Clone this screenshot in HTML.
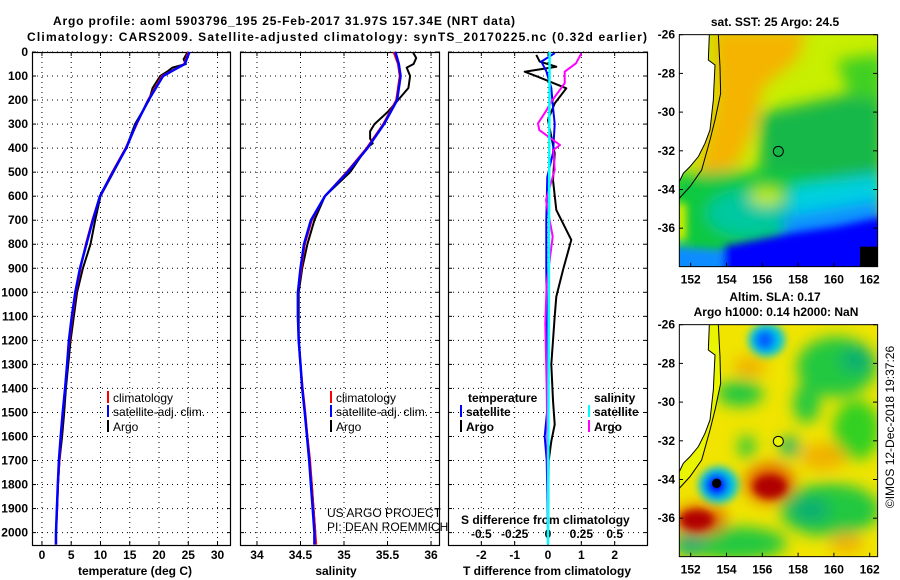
<!DOCTYPE html>
<html><head><meta charset="utf-8"><style>
html,body{margin:0;padding:0;background:#fff;}
svg{display:block;font-family:"Liberation Sans",Arial,sans-serif;}
.b{font-weight:bold;font-size:12px;}
</style></head><body>
<svg id="fig" width="900" height="580" viewBox="0 0 900 580">
<defs>
<filter id="bl" x="-50%" y="-50%" width="200%" height="200%"><feGaussianBlur stdDeviation="22"/></filter>
<filter id="bl2" x="-50%" y="-50%" width="200%" height="200%"><feGaussianBlur stdDeviation="12"/></filter>
<clipPath id="mc1"><rect x="88" y="104" width="595" height="696"/></clipPath>
</defs>
<text class="b" x="284" y="25" text-anchor="middle" textLength="462" font-size="13">Argo profile: aoml 5903796_195 25-Feb-2017 31.97S 157.34E (NRT data)</text>
<text class="b" x="337" y="41" text-anchor="middle" textLength="620" font-size="13">Climatology: CARS2009. Satellite-adjusted climatology: synTS_20170225.nc (0.32d earlier)</text>
<g id="panels"></g>
<!-- SST map -->
<g transform="translate(650,0) scale(0.3333)">
 <g clip-path="url(#mc1)">
  <rect x="88" y="104" width="595" height="696" fill="#c8ee00"/>
  <g filter="url(#bl)">
   <polygon points="190,90 470,90 440,180 340,260 310,390 260,500 140,530 200,300" fill="#f5b400"/>
   <polygon points="330,340 700,260 700,520 520,570 330,520" fill="#18b848"/>
   <polygon points="560,180 700,160 700,300 600,290" fill="#40d020"/>
   <polygon points="60,520 340,510 700,540 700,820 60,820" fill="#10c840"/>
   <ellipse cx="300" cy="640" rx="130" ry="70" fill="#00c8a0"/>
   <ellipse cx="350" cy="590" rx="50" ry="25" fill="#c8ee00"/>
   <polygon points="420,560 700,520 700,640 420,650" fill="#00d0e0"/>
   <polygon points="400,650 700,600 700,740 400,730" fill="#0a8cff"/>
  </g>
  <g filter="url(#bl2)">
   <polygon points="220,740 420,700 560,680 700,650 700,820 220,820" fill="#0000ff"/>
   <polygon points="60,740 220,750 220,820 60,820" fill="#0a8cff"/>
   <polygon points="70,610 110,610 110,720 70,720" fill="#c8ee00"/>
  </g>
  <rect x="630" y="740" width="60" height="70" fill="#000"/>
  <polygon points="80,90 178,90 175,180 195,195 190,300 180,390 165,430 145,470 120,500 100,520 88,545 80,545" fill="#fff"/>
  <polyline points="178,104 175,180 195,195 190,300 180,390 165,430 145,470 120,500 100,520 88,545" fill="none" stroke="#000" stroke-width="3"/>
  <polyline points="205,104 210,200 212,280 195,360 180,420 155,510 120,560 88,595" fill="none" stroke="#000" stroke-width="3"/>
  <circle cx="385" cy="454" r="15" fill="none" stroke="#000" stroke-width="3"/>
 </g>
 <rect x="88" y="104" width="595" height="696" fill="none" stroke="#000" stroke-width="3"/>
</g>
<!-- SLA map -->
<g transform="translate(650,290) scale(0.3333)">
 <g clip-path="url(#mc1)">
  <rect x="88" y="104" width="595" height="696" fill="#f0e400"/>
  <g filter="url(#bl)">
   <ellipse cx="560" cy="230" rx="120" ry="90" fill="#20c840"/>
   <ellipse cx="620" cy="210" rx="50" ry="40" fill="#10b070"/>
   <ellipse cx="270" cy="310" rx="70" ry="40" fill="#20c840"/>
   <ellipse cx="470" cy="340" rx="40" ry="60" fill="#20c840"/>
   <ellipse cx="620" cy="420" rx="70" ry="90" fill="#30d020"/>
   <ellipse cx="540" cy="660" rx="150" ry="80" fill="#20c840"/>
   <ellipse cx="480" cy="660" rx="60" ry="40" fill="#10b070"/>
   <ellipse cx="260" cy="760" rx="150" ry="50" fill="#20c840"/>
   <ellipse cx="120" cy="760" rx="50" ry="40" fill="#10b070"/>
   <ellipse cx="290" cy="470" rx="25" ry="35" fill="#20c840"/>
   <ellipse cx="420" cy="470" rx="30" ry="30" fill="#10b070"/>
   <ellipse cx="300" cy="230" rx="50" ry="30" fill="#f0b000"/>
   <ellipse cx="520" cy="500" rx="70" ry="40" fill="#f0b000"/>
   <ellipse cx="590" cy="760" rx="50" ry="30" fill="#f0b000"/>
   <ellipse cx="360" cy="580" rx="75" ry="60" fill="#e06000"/>
   <ellipse cx="150" cy="690" rx="80" ry="45" fill="#e06000"/>
  </g>
  <g filter="url(#bl2)">
   <ellipse cx="350" cy="150" rx="55" ry="50" fill="#00c8e0"/>
   <ellipse cx="345" cy="150" rx="30" ry="30" fill="#0060ff"/>
   <ellipse cx="205" cy="585" rx="60" ry="55" fill="#00c8e0"/>
   <ellipse cx="200" cy="585" rx="35" ry="35" fill="#0000ff"/>
   <ellipse cx="360" cy="590" rx="50" ry="35" fill="#b00000"/>
   <ellipse cx="140" cy="690" rx="50" ry="30" fill="#b00000"/>
  </g>
  <circle cx="200" cy="580" r="14" fill="#000"/>
  <polygon points="80,90 178,90 175,180 195,195 190,300 180,390 165,430 145,470 120,500 100,520 88,545 80,545" fill="#fff"/>
  <polygon points="178,104 205,104 210,200 212,280 195,360 180,420 155,510 120,560 88,595 88,545 100,520 120,500 145,470 165,430 180,390 190,300 195,195 175,180" fill="#e8f400"/>
  <polyline points="178,104 175,180 195,195 190,300 180,390 165,430 145,470 120,500 100,520 88,545" fill="none" stroke="#000" stroke-width="3"/>
  <polyline points="205,104 210,200 212,280 195,360 180,420 155,510 120,560 88,595" fill="none" stroke="#000" stroke-width="3"/>
  <circle cx="385" cy="454" r="15" fill="#e8f400" stroke="#000" stroke-width="3"/>
 </g>
 <rect x="88" y="104" width="595" height="696" fill="none" stroke="#000" stroke-width="3"/>
</g>
<text class="b" x="775" y="26" text-anchor="middle">sat. SST: 25 Argo: 24.5</text>
<text class="b" x="775" y="301" text-anchor="middle">Altim. SLA: 0.17</text>
<text class="b" x="776" y="316" text-anchor="middle">Argo h1000: 0.14 h2000: NaN</text>
<text x="894" y="427" font-size="12" text-anchor="middle" transform="rotate(-90 894 427)">©IMOS 12-Dec-2018 19:37:26</text>
<g id="maptk"></g>
</svg>
<script>
// ---- data ----
const depthTicks = [0,100,200,300,400,500,600,700,800,900,1000,1100,1200,1300,1400,1500,1600,1700,1800,1900,2000];
const tempTicks = [0,5,10,15,20,25,30];
const salTicks = [34,34.5,35,35.5,36];
const salTickLabels = ["34","34.5","35","35.5","36"];
const tdiffTicks = [-2,-1,0,1,2];
const sdiffTicks = [-0.5,-0.25,0,0.25,0.5];
const sdiffTickLabels = ["-0.5","-0.25","0","0.25","0.5"];

const depthT = [0,50,70,100,200,300,400,500,600,700,800,900,1000,1100,1200,1300,1400,1500,1600,1700,1800,1900,2000,2050];
const climT = [25,24.3,22.8,20.5,18.1,16.2,14.3,12,9.9,8.6,7.5,6.6,5.8,5.2,4.7,4.3,3.95,3.6,3.25,3.0,2.75,2.6,2.4,2.35];
const satT  = [25.2,24.4,22.9,20.7,18.2,16.1,14.4,12.1,9.9,8.7,7.6,6.5,5.7,5.1,4.6,4.3,3.95,3.55,3.2,2.9,2.7,2.55,2.4,2.4];
const argoDepthT = [0,30,50,65,80,100,150,200,300,400,500,600,700,800,900,1000,1200,1400,1500,1600,1700,1800,2000];
const argoT = [24.9,24.2,24.6,22.3,21.5,20.2,18.9,18.3,15.9,14.4,12.2,10.0,9.1,8.3,7.0,6.0,4.9,4.1,3.8,3.45,3.0,2.75,2.4];

const depthS = [0,50,100,200,300,400,500,600,700,800,900,1000,1100,1200,1300,1400,1500,1600,1700,1800,1900,2000,2050];
const climS = [35.57,35.62,35.64,35.6,35.45,35.26,35.03,34.78,34.63,34.55,34.51,34.47,34.47,34.48,34.5,34.525,34.555,34.58,34.61,34.63,34.65,34.67,34.68];
const satS  = [35.59,35.63,35.65,35.61,35.46,35.27,35.04,34.78,34.62,34.54,34.5,34.47,34.47,34.48,34.5,34.52,34.55,34.575,34.6,34.62,34.64,34.66,34.66];
const argoDepthS = [0,25,50,65,100,150,200,250,300,330,360,380,400,500,600,700,800,900,1000,1200,1400,1600,1800,2000];
const argoS = [35.79,35.83,35.8,35.72,35.76,35.74,35.62,35.5,35.35,35.3,35.3,35.33,35.26,35.07,34.78,34.66,34.58,34.52,34.48,34.48,34.52,34.58,34.63,34.67];

const tdDepthArgo = [12,40,61,82,103,151,214,283,422,533,657,782,907,1018,1101,1300,1450,1550,1620,1700,2000];
const tdArgo = [-0.35,-0.25,0.25,-0.7,-0.3,0.55,0.2,0,0.2,0.15,0.25,0.7,0.45,0.25,0.2,0.1,0.15,0.2,0.1,0.02,0.0];
const tdDepthSat = [5,40,80,150,230,300,420,520,700,900,1200,1500,1600,1700,2000];
const tdSat = [0.2,-0.2,-0.05,0.1,0.15,0.2,0.15,-0.02,-0.05,-0.05,-0.03,-0.03,-0.1,-0.04,0.0];
const sdDepthArgo = [6,47,82,130,207,241,297,325,387,408,491,616,768,963,1129,1400,1600,2000];
const sdArgo = [0.25,0.21,0.125,0.125,0.025,-0.01,-0.075,-0.065,0.09,0.04,0.05,-0.015,0.035,-0.01,-0.02,-0.01,-0.005,0.0];
const sdDepthSat = [0,2050];
const sdSat = [0.012,0.0];

const mapLat = [-26,-28,-30,-32,-34,-36];
const mapLon = [152,154,156,158,160,162];

// ---- layout ----
const NS="http://www.w3.org/2000/svg";
const Y0=52, Y1=545;
const yD = d => Y0 + d*0.2403;
const P = [
 {x0:32,x1:231,vmin:-1.7,vmax:32.3,name:"temperature-panel"},
 {x0:240,x1:440,vmin:33.805,vmax:36.103,name:"salinity-panel"},
 {x0:448,x1:648,vmin:-3.0,vmax:3.0,name:"difference-panel"}];
const xT = v => P[0].x0 + (v-P[0].vmin)/(P[0].vmax-P[0].vmin)*(P[0].x1-P[0].x0);
const xS = v => P[1].x0 + (v-P[1].vmin)/(P[1].vmax-P[1].vmin)*(P[1].x1-P[1].x0);
const xTD = v => P[2].x0 + (v-P[2].vmin)/(P[2].vmax-P[2].vmin)*(P[2].x1-P[2].x0);
const xSD = v => xTD(v*4);

const root=document.getElementById('panels');
function el(tag,attrs,parent,txt){const e=document.createElementNS(NS,tag);for(const k in attrs)e.setAttribute(k,attrs[k]);if(txt!==undefined)e.textContent=txt;(parent||root).appendChild(e);return e;}

P.forEach((p,i)=>{
 const g=el('g',{});
 
 
 depthTicks.forEach(d=>{
  const ln=el('line',{x1:p.x0,x2:p.x1,y1:yD(d),y2:yD(d),stroke:'#000','stroke-width':1,'stroke-dasharray':'1,4'},g);
  
  
  el('line',{x1:p.x0,x2:p.x0+4,y1:yD(d),y2:yD(d),stroke:'#000'},g);
  el('line',{x1:p.x1-4,x2:p.x1,y1:yD(d),y2:yD(d),stroke:'#000'},g);
 });
 const xt = i===0?tempTicks.map(xT):i===1?salTicks.map(xS):tdiffTicks.map(xTD);
 xt.forEach(x=>{
  const ln=el('line',{x1:x,x2:x,y1:Y0,y2:Y1,stroke:'#000','stroke-width':1,'stroke-dasharray':'1,4'},g);
  
  
  el('line',{x1:x,x2:x,y1:Y1-4,y2:Y1,stroke:'#000'},g);
  el('line',{x1:x,x2:x,y1:Y0,y2:Y0+4,stroke:'#000'},g);
 });
 const fr=el('rect',{x:p.x0+0.5,y:Y0+0.5,width:p.x1-p.x0-1,height:Y1-Y0,fill:'none',stroke:'#000','stroke-width':1.2},g);
 
 
});
depthTicks.forEach(d=>{
 const t=el('text',{class:'b',x:28,y:yD(d)+4,'text-anchor':'end'},root,String(d));
 
 
});
tempTicks.forEach(v=>{const t=el('text',{class:'b',x:xT(v),y:559,'text-anchor':'middle'},root,String(v));
 
 });
salTicks.forEach((v,i)=>{const t=el('text',{class:'b',x:xS(v),y:559,'text-anchor':'middle'},root,salTickLabels[i]);
 
 });
tdiffTicks.forEach(v=>{const t=el('text',{class:'b',x:xTD(v),y:559,'text-anchor':'middle'},root,String(v));
 
 });
sdiffTicks.forEach((v,i)=>{const t=el('text',{class:'b',x:xSD(v),y:538,'text-anchor':'middle'},root,sdiffTickLabels[i]);
 
 });
[[135,'temperature (deg C)','temperature-axis-title'],[336,'salinity','salinity-axis-title'],[547,'T difference from climatology','t-diff-axis-title']].forEach(a=>{
 const t=el('text',{class:'b',x:a[0],y:575,'text-anchor':'middle'},root,a[1]);
 
 
});
const st=el('text',{class:'b',x:461,y:524},root,'S difference from climatology');



function series(ds,vs,xf,color,name,w){
 const pts=ds.map((d,i)=>xf(vs[i]).toFixed(1)+','+yD(d).toFixed(1)).join(' ');
 const pl=el('polyline',{points:pts,fill:'none',stroke:color,'stroke-width':w||2,'stroke-linejoin':'round'});
 
 
}
series(argoDepthT,argoT,xT,'#000','argo-temperature-line');
series(depthT,climT,xT,'#f00','climatology-temperature-line');
series(depthT,satT,xT,'#00f','satellite-temperature-line',2.5);
series(argoDepthS,argoS,xS,'#000','argo-salinity-line');
series(depthS,climS,xS,'#f00','climatology-salinity-line');
series(depthS,satS,xS,'#00f','satellite-salinity-line',2.5);
series(tdDepthArgo,tdArgo,xTD,'#000','argo-t-diff-line');
series(tdDepthSat,tdSat,xTD,'#00f','satellite-t-diff-line');
series(sdDepthArgo,sdArgo,xSD,'#f0f','argo-s-diff-line');
series(sdDepthSat,sdSat,xSD,'#0ff','satellite-s-diff-line',2.5);

function legend(x,y,color,label,name,bold){
 const g=el('g',{});
 
 
 if(color) el('line',{x1:x,x2:x,y1:y-11,y2:y+1,stroke:color,'stroke-width':2},g);
 el('text',{x:x+5,y:y,'font-size':12,'font-weight':bold?'bold':'normal'},g,label);
}
legend(108,402,'#f00','climatology','legend-climatology');
legend(108,416,'#00f','satellite-adj. clim.','legend-satellite-adj');
legend(108,431,'#000','Argo','legend-argo');
legend(331,402,'#f00','climatology','legend-climatology-s');
legend(331,416,'#00f','satellite-adj. clim.','legend-satellite-adj-s');
legend(331,431,'#000','Argo','legend-argo-s');
legend(463,402,null,'temperature','legend-temperature-header',true);
legend(461,416,'#00f','satellite','legend-t-satellite',true);
legend(461,431,'#000','Argo','legend-t-argo',true);
legend(589,402,null,'salinity','legend-salinity-header',true);
legend(589,416,'#0ff','satellite','legend-s-satellite',true);
legend(589,431,'#f0f','Argo','legend-s-argo',true);
const c1=el('text',{x:327,y:517,'font-size':12},root,'US ARGO PROJECT');


const c2=el('text',{x:327,y:531,'font-size':12},root,'PI: DEAN ROEMMICH');



const mk=document.getElementById('maptk');
const latY = (lat,top)=> top + (-26-lat)/2*38.7;
const lonX = lon => 690.7 + (lon-152)/2*35.8;
[34.7,324.7].forEach((top,mi)=>{
 mapLat.forEach(l=>{
  const t=el('text',{class:'b',x:675,y:latY(l,top)+4,'text-anchor':'end'},mk,String(l));
  
  
  el('line',{x1:679,x2:683,y1:latY(l,top),y2:latY(l,top),stroke:'#000'},mk);
  el('line',{x1:873,x2:877,y1:latY(l,top),y2:latY(l,top),stroke:'#000'},mk);
 });
 mapLon.forEach(l=>{
  const t=el('text',{class:'b',x:lonX(l),y:top+249,'text-anchor':'middle'},mk,String(l));
  
  
  el('line',{x1:lonX(l),x2:lonX(l),y1:top+228,y2:top+232,stroke:'#000'},mk);
 });
});
</script>
</body></html>
